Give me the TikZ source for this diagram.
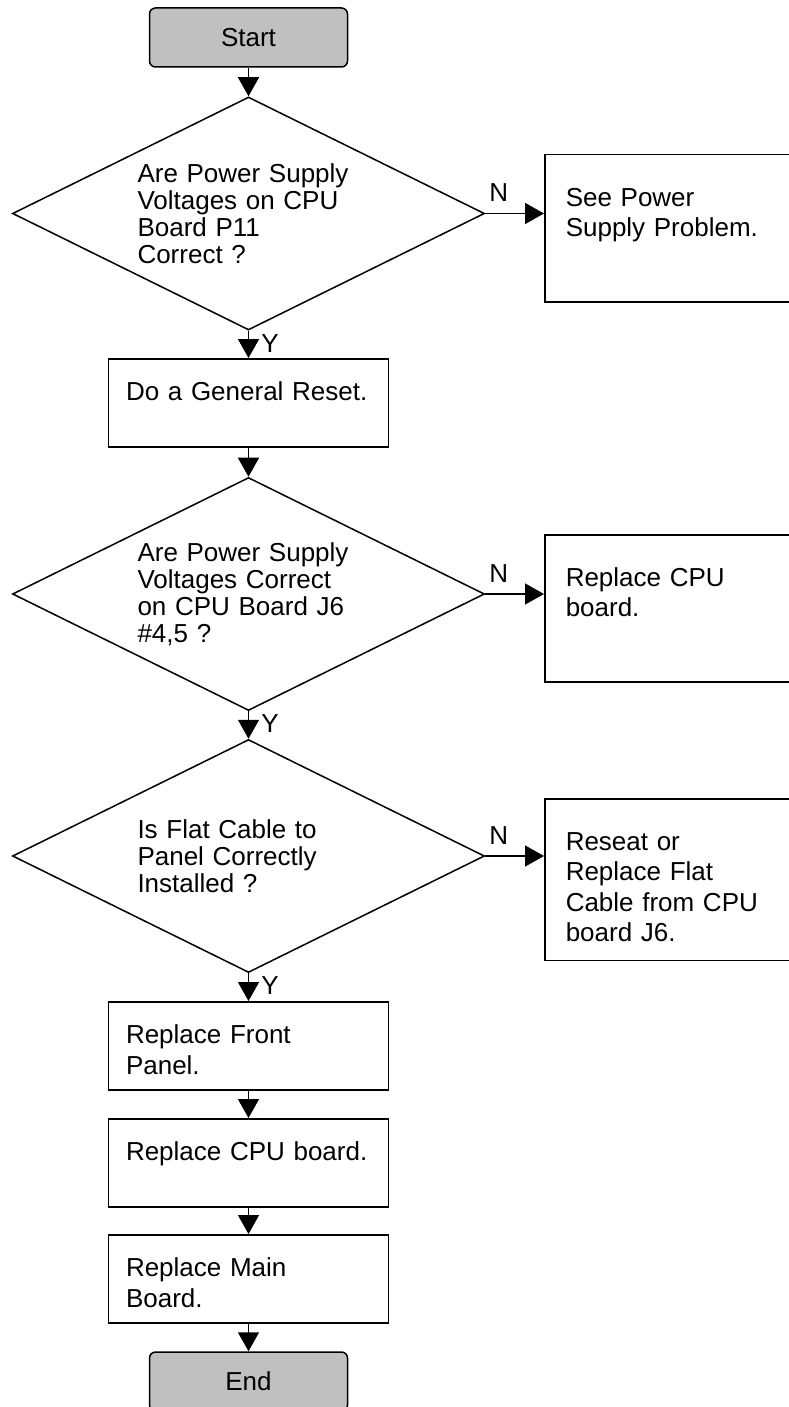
\documentclass[tikz,border=0pt]{standalone}
\usepackage{fontspec}
\setmainfont{Liberation Sans}
\usetikzlibrary{shapes.geometric, arrows.meta, positioning}
\definecolor{termgray}{RGB}{192,192,192}

\begin{document}
\begin{tikzpicture}[x=0.5pt, y=-0.5pt, line width=0.75pt,
    >={Triangle[length=9.5pt, width=10.5pt]},
    font=\fontsize{13}{15.25}\selectfont,
    term/.style={draw, fill=termgray, rounded corners=3pt,
                 minimum width=99pt, minimum height=29.5pt},
    proc/.style={draw, anchor=north, text width=122.5pt, align=left,
                 inner xsep=8.75pt, inner ysep=0pt,
                 text height=21pt, text depth=23pt},
    side/.style={draw, anchor=north west, text width=107pt, align=left,
                 inner xsep=10.5pt, inner ysep=0pt,
                 text height=25.75pt, text depth=47.75pt},
    dec/.style={draw, diamond, aspect=2, inner sep=0pt,
                minimum width=236pt, minimum height=116.5pt,
                text width=111pt, align=left,
                font=\fontsize{13}{13.5}\selectfont},
    nlab/.style={pos=0.23, above=5.5pt, inner sep=0pt},
    ylab/.style={pos=0, anchor=north west, inner sep=0pt,
                 xshift=6pt, yshift=-1.5pt}]

    \useasboundingbox (0,0) rectangle (788,1407);

    % --- Main column ---
    \node[term] (start) at (248.5, 37.5) {Start};
    \node[dec] (vp11) at (248.5, 213.5)
      {Are Power Supply\\Voltages on CPU\\Board P11\\Correct ?};
    \node[proc] (reset) at (248.5, 358) {Do a General Reset.};
    \node[dec] (vj6) at (248.5, 594)
      {Are Power Supply\\Voltages Correct\\on CPU Board J6\\\#4,5 ?};
    \node[dec] (cable) at (248.5, 856)
      {Is Flat Cable to\\Panel Correctly\\Installed ?};
    \node[proc] (panel) at (248.5, 1001) {Replace Front\\Panel.};
    \node[proc] (cpu) at (248.5, 1118) {Replace CPU board.};
    \node[proc] (mainb) at (248.5, 1234) {Replace Main\\Board.};
    \node[term] (end) at (248.5, 1381.5) {End};

    % --- Side boxes ---
    \node[side] (psu) at (544, 154) {See Power\\Supply Problem.};
    \node[side] (newcpu) at (544, 534) {Replace CPU\\board.};
    \node[side, text depth=55pt] (reseat) at (544, 798)
      {Reseat or\\Replace Flat\\Cable from CPU\\board J6.};

    % --- Edges ---
    \draw[->] (start) -- (vp11);
    \draw[->] (vp11) -- node[ylab] {Y} (reset);
    \draw[->] (reset) -- (vj6);
    \draw[->] (vj6) -- node[ylab] {Y} (cable);
    \draw[->] (cable) -- node[ylab] {Y} (panel);
    \draw[->] (panel) -- (cpu);
    \draw[->] (cpu) -- (mainb);
    \draw[->] (mainb) -- (end);

    \draw[->] (vp11.east) -- node[nlab] {N} (vp11.east -| psu.west);
    \draw[->] (vj6.east) -- node[nlab] {N} (vj6.east -| newcpu.west);
    \draw[->] (cable.east) -- node[nlab] {N} (cable.east -| reseat.west);
\end{tikzpicture}
\end{document}
